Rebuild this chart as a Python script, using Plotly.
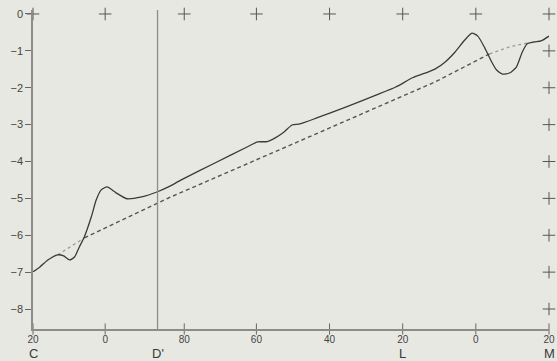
import plotly.graph_objects as go

# --- data (x = distance along the path, y = energy) ---
x_tick_pos = [0, 73, 153, 226, 300, 374, 448, 522]
x_tick_text = ["20", "0", "80", "60", "40", "20", "0", "20"]
point_pos = [0, 126, 374, 522]
point_names = ["C", "D'", "L", "M"]
y_tick_vals = [0, -1, -2, -3, -4, -5, -6, -7, -8]
y_tick_text = ["0", "−1", "−2", "−3", "−4", "−5", "−6", "−7", "−8"]

solid_x = [0, 7, 15, 25, 31, 37, 42, 47, 52, 59, 64, 69, 75, 84, 95, 110, 126, 137,
           150, 184, 217, 227, 237, 245, 254, 262, 270, 287, 317, 347, 367, 384, 400,
           407, 417, 427, 437, 444, 450, 457, 464, 469, 475, 482, 489, 495, 500, 507,
           514, 522]
solid_y = [-6.99, -6.86, -6.67, -6.53, -6.56, -6.67, -6.59, -6.31, -6.04, -5.50, -5.04,
           -4.77, -4.69, -4.85, -5.01, -4.96, -4.82, -4.69, -4.50, -4.04, -3.60, -3.47,
           -3.46, -3.36, -3.20, -3.01, -2.98, -2.82, -2.52, -2.20, -1.98, -1.73, -1.57,
           -1.49, -1.30, -1.03, -0.70, -0.52, -0.60, -0.92, -1.30, -1.52, -1.63, -1.60,
           -1.44, -1.03, -0.81, -0.76, -0.73, -0.60]

dash_x = [52, 137, 277, 407, 462]
dash_y = [-6.07, -4.99, -3.36, -1.84, -1.08]
dot_start_x = [25, 39, 52]
dot_start_y = [-6.53, -6.29, -6.07]
dot_end_x = [462, 482, 500]
dot_end_y = [-1.08, -0.89, -0.79]

BG = "#e8e8e3"
AX = "#8c8c8c"
INK = "#3a3a3a"
FONT = "Liberation Sans, Arial, sans-serif"

y_min, y_max = -8.542, 0.108
x_min, x_max = 0, 522

fig = go.Figure()

fig.add_trace(go.Scatter(x=dot_start_x, y=dot_start_y, mode="lines",
                         line=dict(color="#9a9a9a", width=1.3, dash="dot"),
                         showlegend=False, hoverinfo="skip"))
fig.add_trace(go.Scatter(x=dot_end_x, y=dot_end_y, mode="lines",
                         line=dict(color="#9a9a9a", width=1.3, dash="dot"),
                         showlegend=False, hoverinfo="skip"))
fig.add_trace(go.Scatter(x=dash_x, y=dash_y, mode="lines",
                         line=dict(color="#555555", width=1.4, dash="4px,3px"),
                         showlegend=False, hoverinfo="skip"))
fig.add_trace(go.Scatter(x=solid_x, y=solid_y, mode="lines",
                         line=dict(color=INK, width=1.3, shape="spline", smoothing=0.6),
                         showlegend=False, hoverinfo="skip"))

# plus marks along top edge and right edge
plus_x = x_tick_pos + [x_max] * (len(y_tick_vals) - 1)
plus_y = [0] * len(x_tick_pos) + y_tick_vals[1:]
fig.add_trace(go.Scatter(x=plus_x, y=plus_y, mode="markers",
                         marker=dict(symbol="cross-thin", size=9,
                                     line=dict(color="#555555", width=1)),
                         cliponaxis=False, showlegend=False, hoverinfo="skip"))
# x ticks crossing the axis
fig.add_trace(go.Scatter(x=x_tick_pos, y=[y_min] * len(x_tick_pos), mode="markers",
                         marker=dict(symbol="line-ns", size=8,
                                     line=dict(color="#666666", width=1)),
                         cliponaxis=False, showlegend=False, hoverinfo="skip"))

# vertical line at D'
fig.add_shape(type="line", x0=point_pos[1], x1=point_pos[1], y0=y_min, y1=y_max,
              xref="x", yref="y", line=dict(color=AX, width=1.3))

for px, name in zip(point_pos, point_names):
    fig.add_annotation(x=px, y=0, xref="x", yref="paper", text=name,
                       showarrow=False, yanchor="middle", yshift=-24,
                       borderpad=0,
                       font=dict(family=FONT, size=13, color=INK))

fig.update_layout(
    width=557, height=361,
    margin=dict(l=33, r=2, t=10, b=32),
    paper_bgcolor=BG, plot_bgcolor=BG,
    showlegend=False,
    font=dict(family=FONT, size=11, color="#444444"),
)
fig.update_xaxes(range=[x_min, x_max], tickvals=x_tick_pos, ticktext=x_tick_text,
                 showline=True, linecolor=AX, linewidth=1.5, ticks="",
                 showgrid=False, zeroline=False,
                 ticklabeloverflow="allow", tickfont=dict(size=10, color="#444444"))
fig.update_yaxes(range=[y_min, y_max], tickvals=y_tick_vals, ticktext=y_tick_text,
                 showline=True, linecolor=AX, linewidth=1.5, ticks="outside",
                 ticklen=6, tickcolor="#666666", showgrid=False, zeroline=False,
                 tickfont=dict(size=11, color="#444444"))

fig.write_html("out.html")
